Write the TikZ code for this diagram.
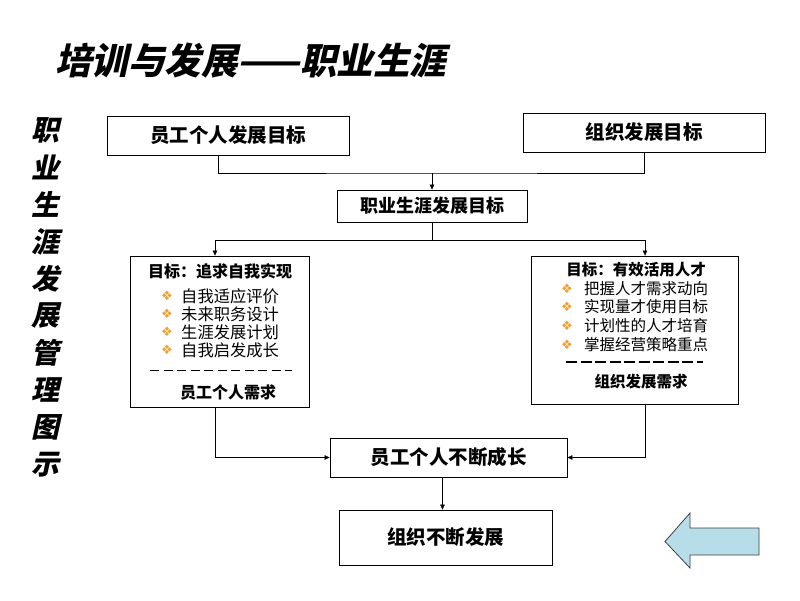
\documentclass[tikz,border=0pt]{standalone}
\usepackage{fontspec}
\setmainfont{Noto Sans CJK SC}
\newfontfamily\slantfont{Noto Sans CJK SC}[FakeSlant=0.22]
\newfontfamily\symfont{DejaVu Sans}
\usetikzlibrary{arrows.meta}
\definecolor{bulorange}{RGB}{240,160,48}
\definecolor{arrowfill}{RGB}{183,222,232}
\definecolor{arrowline}{RGB}{64,64,64}
\begin{document}
\begin{tikzpicture}[x=1pt,y=-1pt,
  box/.style={draw=black, line width=0.8pt, fill=white, inner sep=0pt, font=\fontsize{19.5}{20}\selectfont\bfseries},
  conn/.style={line width=0.6pt},
  arr/.style={line width=0.6pt, -{Triangle[length=5pt,width=4.5pt]}},
  head/.style={inner sep=0pt, font=\fontsize{16}{16}\selectfont\bfseries},
  item/.style={anchor=west, inner sep=0pt, font=\fontsize{16.3}{17}\selectfont},
  bul/.style={inner sep=0pt, text=bulorange, font=\symfont\fontsize{13}{13}\selectfont},
  vt/.style={inner sep=0pt, font=\slantfont\bfseries\fontsize{28}{28}\selectfont},
]
\useasboundingbox (0,0) rectangle (800,600);

% title
\node[anchor=west, inner sep=0pt, font=\slantfont\bfseries\fontsize{36.5}{37}\selectfont] (T) at (55,61) {培训与发展——职业生涯};

% vertical label
\foreach \c [count=\i from 0] in {职,业,生,涯,发,展,管,理,图,示}
  \node[vt] (v\i) at (45,{130+37.2*\i}) {\c};

% boxes
\node[box, minimum width=242pt, minimum height=39pt] (A) at (228,135.5) {员工个人发展目标};
\node[box, minimum width=242pt, minimum height=39pt] (B) at (644,132.5) {组织发展目标};
\node[box, minimum width=190pt, minimum height=32pt, font=\fontsize{18}{18}\selectfont\bfseries] (C) at (432,206) {职业生涯发展目标};
\node[box, minimum width=179pt, minimum height=151pt] (D) at (219.5,331.5) {};
\node[box, minimum width=207pt, minimum height=148pt] (E) at (634.5,330) {};
\node[box, minimum width=237pt, minimum height=39pt] (F) at (448.5,457.5) {员工个人不断成长};
\node[box, minimum width=213pt, minimum height=55pt] (G) at (445.5,537.5) {组织不断发展};

% connectors
\coordinate (j1) at (432,173);
\coordinate (j2) at (432,240);
\draw[conn] ([xshift=-10pt]A.south) |- (j1) -| (B.south);
\draw[arr] (j1) -- (C.north);
\draw[conn] (C.south) -- (j2);
\draw[arr] (j2) -| ([xshift=-4.5pt]D.north);
\draw[arr] (j2) -| ([xshift=10.5pt]E.north);
\draw[arr] ([xshift=-4.5pt]D.south) |- (F.west);
\draw[arr] ([xshift=10.5pt]E.south) |- (F.east);
\draw[arr] ([xshift=-3pt]G.north |- F.south) -- ([xshift=-3pt]G.north);

% contents of D
\node[head] (Dh) at (220,271) {目标：追求自我实现};
\foreach \t/\y [count=\k] in {自我适应评价/296,未来职务设计/314,生涯发展计划/332,自我启发成长/350}{
  \node[bul] (Db\k) at (167,\y) {❖};
  \node[item] (Di\k) at (181,\y) {\t};
}
\coordinate (Dl1) at (150,370);
\coordinate (Dl2) at (292,370);
\draw[line width=0.6pt, dash pattern=on 9pt off 4.5pt] (Dl1) -- (Dl2);
\node[head] (Dn) at (228,392) {员工个人需求};

% contents of E
\node[head, font=\fontsize{15.5}{16}\selectfont\bfseries] (Eh) at (636,270) {目标：有效活用人才};
\foreach \t/\y [count=\k] in {把握人才需求动向/289,实现量才使用目标/307,计划性的人才培育/326,掌握经营策略重点/345}{
  \node[bul] (Eb\k) at (567,\y) {❖};
  \node[item, font=\fontsize{15.5}{16}\selectfont] (Ei\k) at (584,\y) {\t};
}
\coordinate (El1) at (566,362);
\coordinate (El2) at (703,362);
\draw[line width=2pt, dash pattern=on 11pt off 3.5pt] (El1) -- (El2);
\node[head, font=\fontsize{15.5}{16}\selectfont\bfseries] (En) at (641,382) {组织发展需求};

% block arrow
\draw[fill=arrowfill, draw=arrowline, line width=0.8pt, line join=miter]
  (665,541.5) -- (690,513) -- (690,528) -- (759,528) -- (759,555) -- (690,555) -- (690,568) -- cycle;
\end{tikzpicture}
\end{document}
